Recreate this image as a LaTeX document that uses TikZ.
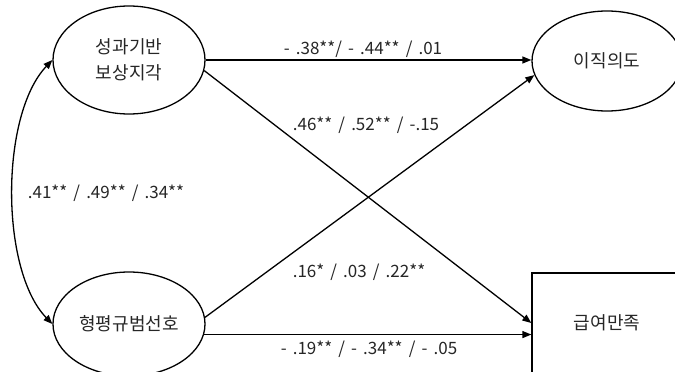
\documentclass[tikz,border=0pt]{standalone}
\usepackage{fontspec}
\setmainfont{Noto Sans CJK KR}
\usetikzlibrary{shapes.geometric,arrows.meta}
\newcommand\labfont{\fontsize{17}{20}\selectfont\spaceskip=0.36em\relax}
\tikzset{
  lat/.style={ellipse,draw,line width=1.3pt,inner sep=0pt,font=\fontsize{18}{26}\selectfont,text=black!85,align=center},
  obs/.style={rectangle,draw,line width=1.3pt,inner sep=0pt,minimum width=150pt,minimum height=100pt,font=\fontsize{18}{26}\selectfont,text=black!85},
  arr/.style={line width=1.3pt,-{Triangle[length=9pt,width=7pt]}},
  darr/.style={line width=1.3pt,{Triangle[length=9pt,width=7pt]}-{Triangle[length=9pt,width=7pt]}},
  lab/.style={inner sep=0pt,font=\labfont,text=black!85}
}
\begin{document}
\begin{tikzpicture}[x=1pt,y=-1pt]
\useasboundingbox[fill=white] (0,0) rectangle (675,372);
\node[lat,minimum width=152pt,minimum height=108pt] (tl) at (129,60) {성과기반\\보상지각};
\node[lat,minimum width=150pt,minimum height=100pt] (tr) at (607,61) {이직의도};
\node[lat,minimum width=152pt,minimum height=104pt] (bl) at (129,324) {형평규범선호};
\node[obs] (br) at (607,323) {급여만족};
\draw[arr] (tl.east) -- (tl.east -| tr.west);
\draw[arr] (tl.-8) -- (br.west);
\draw[arr] (bl.5) -- (tr.191);
\draw[arr] (bl.-8) -- (bl.-8 -| br.west);
\draw[darr] (tl.west) .. controls (0,115) and (0,270) .. (bl.west);
\node[lab] (l1) at (363,49) {- .38**/ - .44** / .01};
\node[lab] (l2) at (366,125) {.46** / .52** / -.15};
\node[lab] (l3) at (106,193) {.41** / .49** / .34**};
\node[lab] (l4) at (359,272) {.16* / .03 / .22**};
\node[lab] (l5) at (369,349) {- .19** / - .34** / - .05};
\end{tikzpicture}
\end{document}
